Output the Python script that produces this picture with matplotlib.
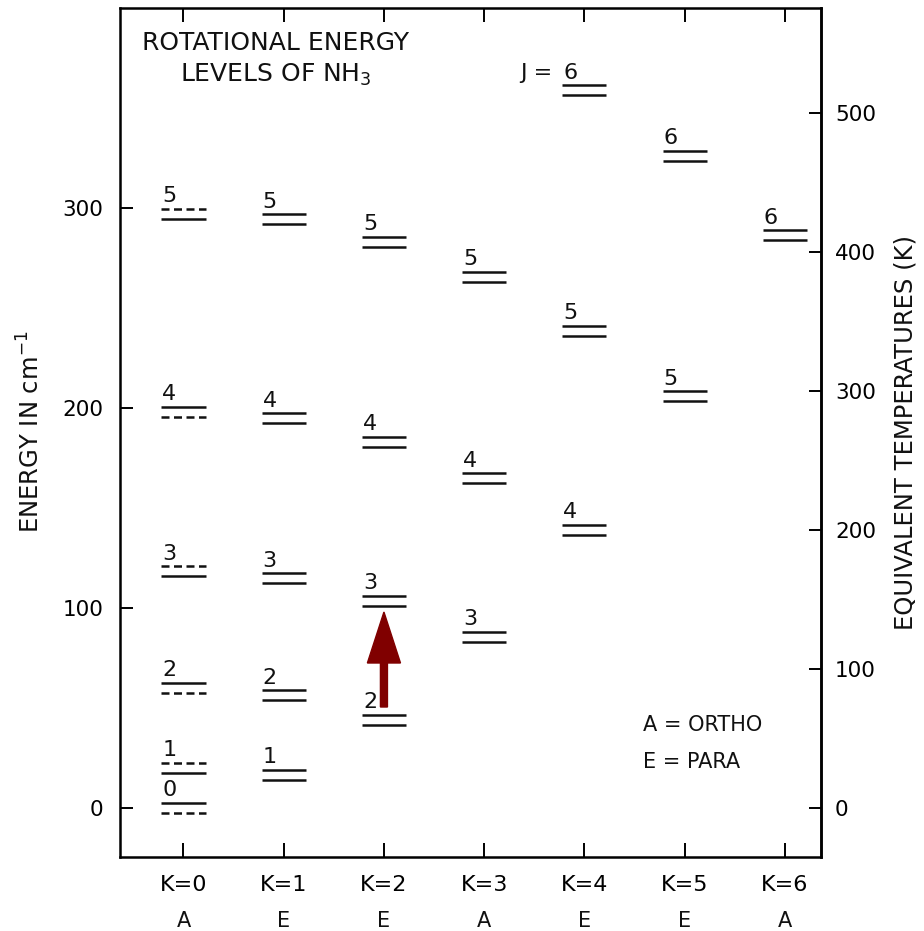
import matplotlib
matplotlib.use("Agg")
import matplotlib.pyplot as plt

# K ladders of NH3 and their symmetry species
k_values = [0, 1, 2, 3, 4, 5, 6]
k_labels = ["K=0", "K=1", "K=2", "K=3", "K=4", "K=5", "K=6"]
k_species = ["A", "E", "E", "A", "E", "E", "A"]

# rotational levels: K, J and energy (cm^-1) of the inversion doublet centre
level_k = [0, 0, 0, 0, 0, 0,
           1, 1, 1, 1, 1,
           2, 2, 2, 2,
           3, 3, 3,
           4, 4, 4,
           5, 5,
           6]
level_j = [0, 1, 2, 3, 4, 5,
           1, 2, 3, 4, 5,
           2, 3, 4, 5,
           3, 4, 5,
           4, 5, 6,
           5, 6,
           6]
level_e = [0.0, 20.0, 60.0, 118.3, 198.1, 297.2,
           16.5, 56.3, 114.8, 194.8, 294.4,
           44.0, 103.7, 183.0, 283.2,
           85.5, 164.8, 265.5,
           139.2, 238.6, 358.9,
           205.9, 326.1,
           286.4]

# inversion doublet drawn as two lines +/- this far from the centre
doublet_half = 2.5

# 2 -> 3 transition in the K=2 ladder
arrow_k = 2
arrow_from = 50.5
arrow_to = 98.0

CM_TO_K = 1.4388

fig = plt.figure(figsize=(9.24, 9.31), dpi=100)
ax = fig.add_axes([120 / 924, 74 / 931, 701 / 924, 849 / 931])

half_w = 0.22
ink = "#111111"
for k, j, e in zip(level_k, level_j, level_e):
    upper = e + doublet_half
    lower = e - doublet_half
    up_style = "-"
    low_style = "-"
    if k == 0:
        # one member of each K=0 doublet is missing (dashed)
        if j % 2 == 0:
            low_style = (0, (3.2, 1.8))
        else:
            up_style = (0, (3.2, 1.8))
    ax.plot([k - half_w, k + half_w], [upper, upper], color=ink, lw=1.8,
            ls=up_style, solid_capstyle="butt", dash_capstyle="butt")
    ax.plot([k - half_w, k + half_w], [lower, lower], color=ink, lw=1.8,
            ls=low_style, solid_capstyle="butt", dash_capstyle="butt")
    ax.text(k - half_w + 0.01, upper + 3.3, str(j), fontsize=16,
            ha="left", va="baseline", color=ink)

ax.arrow(arrow_k, arrow_from, 0, arrow_to - arrow_from, width=0.07,
         head_width=0.33, head_length=25.5, length_includes_head=True,
         color="#800000", ec="#800000")

ax.text(0.92, 379, "ROTATIONAL ENERGY", fontsize=18, ha="center",
        va="baseline", color=ink)
ax.text(0.92, 363, "LEVELS OF NH$_3$", fontsize=18, ha="center",
        va="baseline", color=ink)
ax.text(3.36, 364.5, "J =", fontsize=16, ha="left", va="baseline", color=ink)

ax.text(4.58, 38.5, "A = ORTHO", fontsize=15, ha="left", va="baseline",
        color=ink)
ax.text(4.58, 20.0, "E = PARA", fontsize=15, ha="left", va="baseline",
        color=ink)

ax.set_xlim(-0.633, 6.36)
ax.set_ylim(-24.5, 400)

ax.set_xticks(k_values)
ax.set_xticklabels(k_labels)
ax.set_yticks([0, 100, 200, 300])
ax.tick_params(axis="x", direction="in", length=10, width=1.4, pad=13,
               labelsize=16, top=True)
ax.tick_params(axis="y", direction="in", length=9, width=1.4, pad=12,
               labelsize=15.5)
for k, s in zip(k_values, k_species):
    ax.text(k, -0.0754, s, transform=ax.get_xaxis_transform(), fontsize=15,
            ha="center", va="center", color=ink)

for sp in ax.spines.values():
    sp.set_linewidth(1.8)

sec = ax.secondary_yaxis("right", functions=(lambda e: e * CM_TO_K,
                                              lambda t: t / CM_TO_K))
sec.set_yticks([0, 100, 200, 300, 400, 500])
sec.tick_params(direction="in", length=9, width=1.4, pad=10, labelsize=15.5)
sec.spines["right"].set_linewidth(1.8)

fig.text(31 / 924, 1 - 432 / 931, "ENERGY IN cm$^{-1}$", fontsize=17.5,
         rotation=90, ha="center", va="center", color=ink)
fig.text(906 / 924, 1 - 432 / 931, "EQUIVALENT TEMPERATURES (K)",
         fontsize=17.5, rotation=90, ha="center", va="center", color=ink)

fig.savefig("out.png", dpi=100)
